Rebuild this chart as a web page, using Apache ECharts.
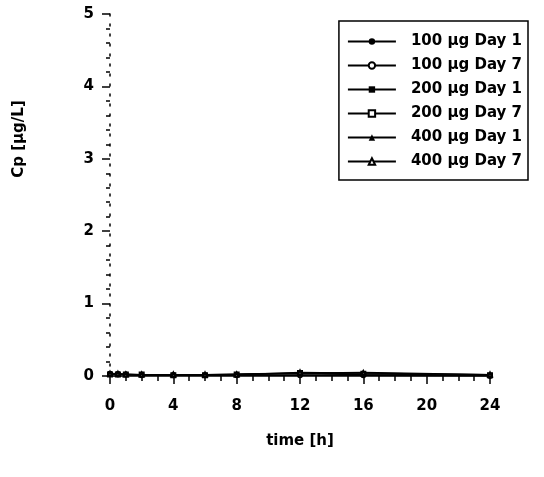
<!DOCTYPE html>
<html>
<head>
<meta charset="utf-8">
<script src="https://cdn.jsdelivr.net/npm/echarts@6/dist/echarts.min.js"></script>
<style>
  html, body { margin: 0; padding: 0; background: #fff; }
  #chart { width: 544px; height: 477px; }
</style>
</head>
<body>
<div id="chart"></div>
<script>
// sampling times (h)
var times = [0, 0.5, 1, 2, 4, 6, 8, 12, 16, 24];
var names = ['100 µg Day 1', '100 µg Day 7', '200 µg Day 1', '200 µg Day 7', '400 µg Day 1', '400 µg Day 7'];
// concentrations, all close to zero
var d100day1 = [0.02, 0.03, 0.02, 0.01, 0.01, 0.01, 0.01, 0.01, 0.01, 0.0];
var d100day7 = [0.03, 0.02, 0.02, 0.01, 0.01, 0.01, 0.01, 0.01, 0.01, 0.0];
var d200day1 = [0.03, 0.03, 0.02, 0.02, 0.01, 0.01, 0.02, 0.03, 0.02, 0.01];
var d200day7 = [0.02, 0.02, 0.02, 0.02, 0.01, 0.01, 0.02, 0.04, 0.03, 0.01];
var d400day1 = [0.04, 0.03, 0.03, 0.02, 0.02, 0.02, 0.03, 0.04, 0.05, 0.02];
var d400day7 = [0.03, 0.03, 0.02, 0.02, 0.02, 0.02, 0.02, 0.05, 0.04, 0.02];

var allData = [d100day1, d100day7, d200day1, d200day7, d400day1, d400day7];
var symbols = ['circle', 'emptyCircle', 'rect', 'emptyRect', 'triangle', 'emptyTriangle'];

var chart = echarts.init(document.getElementById('chart'));

var font = 'DejaVu Sans, Liberation Sans, sans-serif';

var series = allData.map(function (vals, i) {
  return {
    name: names[i],
    type: 'line',
    symbol: symbols[i],
    symbolSize: 4,
    showAllSymbol: true,
    lineStyle: { color: '#000', width: 1.2 },
    itemStyle: { color: '#000', borderColor: '#000' },
    data: times.map(function (t, j) { return [t, vals[j]]; })
  };
});

var option = {
  backgroundColor: '#fff',
  animation: false,
  textStyle: { fontFamily: font },
  grid: { left: 110, right: 54, top: 14, bottom: 101 },
  graphic: [{
    type: 'text',
    x: 19,
    y: 139,
    rotation: Math.PI / 2,
    style: {
      text: 'Cp [µg/L]',
      font: 'bold 15px ' + font,
      fill: '#000',
      align: 'center',
      verticalAlign: 'middle'
    }
  }],
  legend: {
    right: 16,
    top: 21,
    orient: 'vertical',
    data: names,
    itemWidth: 48,
    itemHeight: 8,
    itemGap: 9,
    padding: [13, 6, 11, 8],
    borderColor: '#000',
    borderWidth: 1.5,
    textStyle: { color: '#000', fontSize: 15, fontWeight: 'bold', padding: [0, 0, 0, 10] }
  },
  xAxis: {
    type: 'value',
    min: 0,
    max: 24,
    interval: 4,
    name: 'time [h]',
    nameLocation: 'middle',
    nameGap: 58,
    nameTextStyle: { color: '#000', fontSize: 15, fontWeight: 'bold' },
    axisLine: { lineStyle: { color: '#000', width: 1.5 } },
    axisTick: { show: true, length: 8, lineStyle: { color: '#000', width: 1.5 } },
    minorTick: { show: true, splitNumber: 4, length: 5, lineStyle: { color: '#000', width: 1.5 } },
    axisLabel: { color: '#000', fontSize: 15, fontWeight: 'bold', margin: 23 },
    splitLine: { show: false }
  },
  yAxis: {
    type: 'value',
    min: 0,
    max: 5,
    interval: 1,
    axisLine: { lineStyle: { color: '#000', width: 1.5, type: [2, 8] } },
    axisTick: { show: true, length: 8, lineStyle: { color: '#000', width: 1.5 } },
    minorTick: { show: true, splitNumber: 5, length: 4, lineStyle: { color: '#000', width: 1.5 } },
    axisLabel: { color: '#000', fontSize: 15, fontWeight: 'bold', margin: 16 },
    splitLine: { show: false }
  },
  series: series
};

chart.setOption(option);
</script>
</body>
</html>
